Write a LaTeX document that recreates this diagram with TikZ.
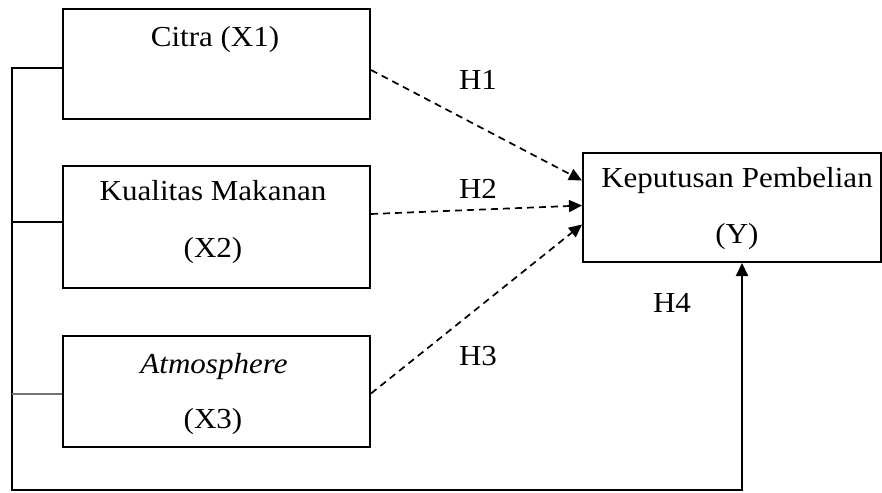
\documentclass[tikz,border=0pt]{standalone}
\usepackage{fontspec}
\usepackage{graphicx}
\setmainfont{Liberation Serif}
\usetikzlibrary{arrows.meta}
\newcommand{\wtxt}[1]{\scalebox{1.07}[1]{#1}}
\begin{document}
\begin{tikzpicture}[x=1pt,y=-1pt,
  box/.style={draw, line width=2pt, anchor=north west, inner sep=0pt},
  txt/.style={anchor=base, inner sep=0pt, font=\fontsize{29}{33}\selectfont},
  link/.style={line width=2pt},
  hyp/.style={line width=1.7pt, dash pattern=on 7pt off 5pt, -{Triangle[length=13pt,width=12pt]}},
  arr/.style={line width=2pt, -{Triangle[length=13pt,width=12pt]}}]
\useasboundingbox (0,0) rectangle (882,492);
% boxes
\node[box, minimum width=307pt, minimum height=110pt] (x1) at (62,8) {};
\node[box, minimum width=307pt, minimum height=122pt] (x2) at (62,165) {};
\node[box, minimum width=307pt, minimum height=111pt] (x3) at (62,335) {};
\node[box, minimum width=298pt, minimum height=109pt] (yb) at (582,152) {};
% texts
\node[txt] (t1) at (215,47) {\wtxt{Citra (X1)}};
\node[txt] (t2a) at (213,200) {\wtxt{Kualitas Makanan}};
\node[txt] (t2b) at (213,257) {\wtxt{(X2)}};
\node[txt] (t3a) at (214,373) {\wtxt{\itshape Atmosphere}};
\node[txt] (t3b) at (213,428) {\wtxt{(X3)}};
\node[txt] (ty1) at (737,187) {\wtxt{Keputusan Pembelian}};
\node[txt] (ty2) at (737,243) {\wtxt{(Y)}};
\node[txt] (h1) at (478,90) {\wtxt{H1}};
\node[txt] (h2) at (478,198) {\wtxt{H2}};
\node[txt] (h3) at (478,365) {\wtxt{H3}};
\node[txt] (h4) at (672,312) {\wtxt{H4}};
% hypotheses
\draw[hyp] ([yshift=-6pt]x1.east) -- ([yshift=27pt]yb.west);
\draw[hyp] ([yshift=13pt]x2.east) -- ([yshift=2pt]yb.west);
\draw[hyp] ([yshift=-2pt]x3.east) -- ([yshift=-17pt]yb.west);
% left bus
\coordinate (lb) at (12,490);
\draw[arr] ([yshift=-4pt]x1.west) -| (lb) -| ([xshift=10pt]yb.south);
\draw[link] ([yshift=5pt]x2.west) -- ++(-50,0);
\draw[link, black!55] ([yshift=-2pt]x3.west) -- ++(-50,0);
\end{tikzpicture}
\end{document}
